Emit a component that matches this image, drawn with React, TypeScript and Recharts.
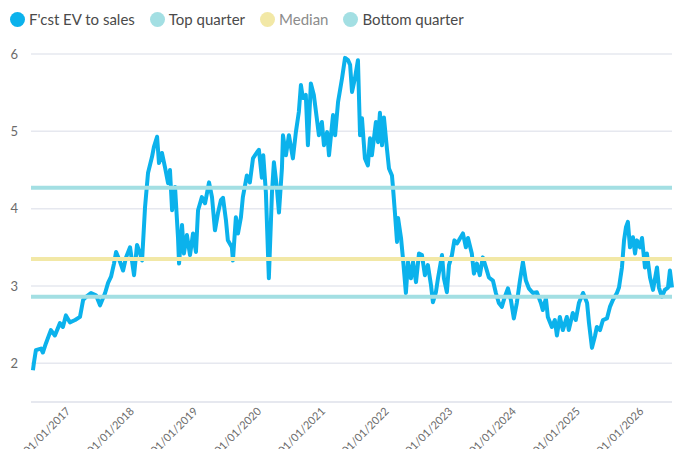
import React from 'react';
import { LineChart, Line, XAxis, YAxis, CartesianGrid, ReferenceLine } from 'recharts';

// sampled points of the forecast EV/sales multiple
const dates = [
  '2016-05-21', '2016-05-27', '2016-06-07', '2016-07-06', '2016-07-17', '2016-08-04', '2016-09-01', '2016-09-24',
  '2016-10-23', '2016-11-09', '2016-11-26', '2016-12-19',
  '2017-01-18', '2017-02-15', '2017-03-05', '2017-03-22', '2017-04-19', '2017-05-18', '2017-06-10', '2017-07-09',
  '2017-07-26', '2017-08-12', '2017-08-29', '2017-09-10', '2017-10-03', '2017-10-20', '2017-11-06', '2017-11-29',
  '2017-12-22',
  '2018-01-08', '2018-01-25', '2018-02-06', '2018-02-23', '2018-03-12', '2018-04-04', '2018-04-15', '2018-05-03',
  '2018-05-14', '2018-05-31', '2018-06-17', '2018-07-05', '2018-07-16', '2018-07-28', '2018-08-14', '2018-08-31',
  '2018-09-06', '2018-09-23', '2018-10-04', '2018-10-21', '2018-11-08', '2018-11-25', '2018-12-12', '2018-12-24',
  '2019-01-15', '2019-02-02', '2019-02-25', '2019-03-14', '2019-03-31', '2019-04-17', '2019-05-04', '2019-05-16',
  '2019-06-02', '2019-06-13', '2019-07-06', '2019-07-12', '2019-07-29', '2019-08-10', '2019-08-27', '2019-09-07',
  '2019-09-30', '2019-10-17', '2019-11-04', '2019-11-27', '2019-12-08', '2019-12-25',
  '2020-01-02', '2020-01-17', '2020-02-03', '2020-02-21', '2020-03-03', '2020-03-20', '2020-04-01', '2020-04-18',
  '2020-04-24', '2020-05-11', '2020-05-28', '2020-06-20', '2020-07-07', '2020-07-24', '2020-08-05', '2020-08-16',
  '2020-09-02', '2020-09-14', '2020-10-01', '2020-10-18', '2020-11-04', '2020-11-16', '2020-12-03', '2020-12-15',
  '2021-01-02', '2021-01-13', '2021-02-05', '2021-02-17', '2021-03-06', '2021-03-29', '2021-04-15', '2021-05-02',
  '2021-05-14', '2021-05-25', '2021-06-11', '2021-06-28', '2021-07-10', '2021-07-21', '2021-08-07', '2021-08-24',
  '2021-09-05', '2021-09-16', '2021-10-09', '2021-10-21', '2021-11-01', '2021-11-13', '2021-11-24', '2021-12-11',
  '2021-12-23',
  '2022-01-09', '2022-01-15', '2022-01-26', '2022-02-07', '2022-02-13', '2022-03-02', '2022-03-13', '2022-03-30',
  '2022-04-11', '2022-04-28', '2022-05-10', '2022-05-27', '2022-06-13', '2022-06-30', '2022-07-17', '2022-08-03',
  '2022-08-21', '2022-09-01', '2022-09-18', '2022-09-30', '2022-10-23', '2022-11-03', '2022-11-20', '2022-12-02',
  '2022-12-19',
  '2023-01-02', '2023-01-17', '2023-01-28', '2023-02-20', '2023-03-09', '2023-03-21', '2023-04-12', '2023-04-24',
  '2023-05-11', '2023-05-28', '2023-06-14', '2023-07-02', '2023-07-19', '2023-08-11', '2023-08-28', '2023-09-14',
  '2023-10-01', '2023-10-18', '2023-11-05', '2023-11-22', '2023-12-09', '2023-12-26',
  '2024-01-13', '2024-01-30', '2024-02-16', '2024-03-04', '2024-03-27', '2024-04-19', '2024-05-12', '2024-05-23',
  '2024-06-10', '2024-06-21', '2024-07-14', '2024-07-31', '2024-08-12', '2024-08-29', '2024-09-15', '2024-10-08',
  '2024-10-19', '2024-11-11', '2024-11-28', '2024-12-16',
  '2025-01-09', '2025-02-01', '2025-02-12', '2025-03-01', '2025-03-18', '2025-03-29', '2025-04-16', '2025-05-03',
  '2025-05-26', '2025-06-12', '2025-06-29', '2025-07-22', '2025-08-03', '2025-08-20', '2025-09-01', '2025-09-12',
  '2025-09-23', '2025-10-05', '2025-10-22', '2025-11-03', '2025-11-14', '2025-12-01', '2025-12-13', '2025-12-30',
  '2026-01-10', '2026-01-28', '2026-02-14', '2026-03-09', '2026-03-20', '2026-04-06', '2026-04-23', '2026-05-11',
  '2026-05-22', '2026-06-03',
];

const evToSales = [
  1.91, 2.01, 2.17, 2.19, 2.14, 2.26, 2.43, 2.36,
  2.52, 2.47, 2.62, 2.53,
  2.56, 2.6, 2.82, 2.86, 2.91, 2.88, 2.75, 2.91,
  3.04, 3.12, 3.29, 3.44, 3.31, 3.2, 3.37, 3.5,
  3.14,
  3.53, 3.42, 3.33, 4.02, 4.46, 4.67, 4.8, 4.93,
  4.59, 4.72, 4.54, 4.33, 4.5, 3.98, 4.28, 3.63,
  3.29, 3.79, 3.42, 3.66, 3.4, 3.68, 3.44, 3.98,
  4.15, 4.07, 4.34, 4.15, 3.72, 3.94, 4.11, 4.14,
  3.85, 3.59, 3.5, 3.33, 3.89, 3.68, 3.89, 4.15,
  4.43, 4.34, 4.65, 4.73, 4.76, 4.4,
  4.69, 4.21, 3.1, 4.21, 4.6, 4.27, 3.95, 4.52,
  4.95, 4.69, 4.95, 4.65, 4.99, 5.25, 5.6, 5.43,
  5.47, 4.82, 5.62, 5.47, 5.17, 4.95, 5.12, 4.82,
  4.99, 4.69, 5.21, 4.95, 5.38, 5.69, 5.95, 5.92,
  5.86, 5.51, 5.69, 5.92, 4.95, 5.17, 4.65, 4.56,
  4.91, 4.69, 5.12, 4.86, 5.24, 4.82, 5.18, 4.78,
  4.52,
  4.43, 4.27, 3.95, 3.57, 3.88, 3.62, 3.36, 2.91,
  3.31, 3.1, 3.31, 3.05, 3.42, 3.4, 3.14, 3.27,
  3.01, 2.79, 2.92, 3.1, 3.4, 3.1, 2.92, 3.27,
  3.4,
  3.59, 3.55, 3.59, 3.68, 3.5, 3.62, 3.42, 3.16,
  3.29, 3.14, 3.37, 3.24, 3.11, 3.07, 2.91, 2.78,
  2.73, 2.86, 2.97, 2.82, 2.58, 2.78,
  3.07, 3.31, 3.07, 2.97, 2.91, 2.92, 2.78, 2.69,
  2.84, 2.6, 2.47, 2.56, 2.36, 2.6, 2.43, 2.6,
  2.43, 2.65, 2.56, 2.78,
  2.91, 2.78, 2.52, 2.2, 2.35, 2.47, 2.43, 2.56,
  2.58, 2.73, 2.82, 2.91, 2.98, 3.24, 3.59, 3.76,
  3.83, 3.5, 3.63, 3.42, 3.59, 3.5, 3.62, 3.24,
  3.42, 3.11, 2.95, 3.24, 2.98, 2.86, 2.95, 2.98,
  3.2, 2.98,
];

const topQuarter = 4.27;
const median = 3.35;
const bottomQuarter = 2.86;

const yearTicks = [
  '2017-01-01', '2018-01-01', '2019-01-01', '2020-01-01', '2021-01-01',
  '2022-01-01', '2023-01-01', '2024-01-01', '2025-01-01', '2026-01-01',
];
const valueTicks = [2, 3, 4, 5, 6];
const axisStart = '2016-05-10';

const legendItems = [
  { name: "F'cst EV to sales", color: '#0bb2ec', text: '#4a4a4a' },
  { name: 'Top quarter', color: '#a3dfe3', text: '#4a4a4a' },
  { name: 'Median', color: '#f2e8a6', text: '#8c8c8c' },
  { name: 'Bottom quarter', color: '#a3dfe3', text: '#4a4a4a' },
];

const data = dates.map((d, i) => ({ t: Date.parse(d), v: evToSales[i] }));

const fmtDate = (t: number) => {
  const d = new Date(t);
  const dd = String(d.getUTCDate()).padStart(2, '0');
  const mm = String(d.getUTCMonth() + 1).padStart(2, '0');
  return `${dd}/${mm}/${d.getUTCFullYear()}`;
};

const DateTick = (props: any) => {
  const { x, y, payload } = props;
  const tx = x - 1;
  const ty = y + 8;
  return (
    <text
      x={tx}
      y={ty}
      transform={`rotate(-45, ${tx}, ${ty})`}
      textAnchor="end"
      fontSize={11}
      fill="#6b6b6b"
    >
      {fmtDate(payload.value)}
    </text>
  );
};

const font = 'Lato, "Open Sans", sans-serif';

const App: React.FC = () => {
  return (
    <div style={{ position: 'relative', width: 696, height: 449, fontFamily: font, background: '#fff' }}>
      <style>{'body{margin:0}'}</style>
      <div style={{ position: 'absolute', top: 10, left: 10, display: 'flex', alignItems: 'center', fontSize: 15 }}>
        {legendItems.map((it) => (
          <div key={it.name} style={{ display: 'flex', alignItems: 'center', marginRight: 15 }}>
            <span
              style={{ width: 15, height: 15, borderRadius: '50%', background: it.color, marginRight: 4, display: 'inline-block' }}
            />
            <span style={{ color: it.text }}>{it.name}</span>
          </div>
        ))}
      </div>
      <LineChart width={696} height={449} data={data} margin={{ top: 54, right: 24, bottom: 0, left: 0 }}>
        <CartesianGrid vertical={false} stroke="#e6e8ef" strokeWidth={1.5} />
        <XAxis
          type="number"
          dataKey="t"
          domain={[Date.parse(axisStart), 'dataMax']}
          ticks={yearTicks.map((d) => Date.parse(d))}
          tick={<DateTick />}
          tickLine={false}
          tickSize={0}
          axisLine={{ stroke: '#e6e8ef', strokeWidth: 2 }}
          height={47}
          interval={0}
        />
        <YAxis
          type="number"
          domain={[1.5, 6]}
          ticks={valueTicks}
          axisLine={false}
          tickLine={false}
          tickSize={0}
          tickMargin={13}
          width={31}
          tick={{ fontSize: 13, fill: '#6b6b6b', fontFamily: font }}
        />
        <Line
          type="linear"
          dataKey="v"
          name="F'cst EV to sales"
          stroke="#0bb2ec"
          strokeWidth={4}
          dot={false}
          strokeLinejoin="round"
          isAnimationActive={false}
        />
        <ReferenceLine y={topQuarter} stroke="#a3dfe3" strokeWidth={4} />
        <ReferenceLine y={median} stroke="#f2e8a6" strokeWidth={4} />
        <ReferenceLine y={bottomQuarter} stroke="#a3dfe3" strokeWidth={4} />
      </LineChart>
    </div>
  );
};

export default App;
